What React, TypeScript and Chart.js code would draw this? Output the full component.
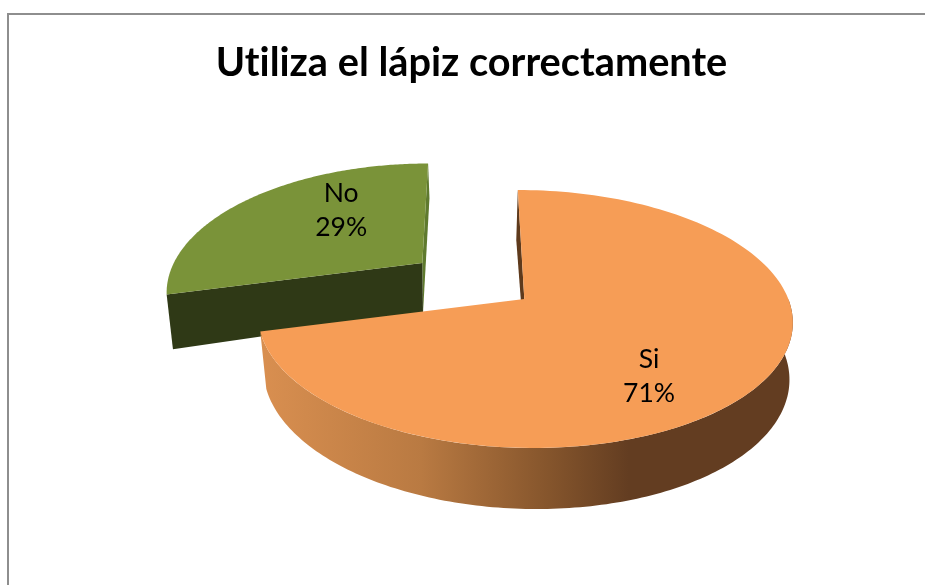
import React, { useEffect, useRef } from "react";
import { Chart, registerables } from "chart.js";

Chart.register(...registerables);

const categories = ["Si", "No"];
const seriesValues = [71, 29];
const chartTitle = "Utiliza el lápiz correctamente";
const sliceColors = ["#F69D56", "#7A9339"];

type Plane = { x: number; y: number; a: number; b: number; e: number; p: number };
type View = { top: Plane; bottom: Plane; label: { r: number; dx: number; dy: number } };

// perspective view of every slice's top and bottom faces
const views: View[] = [
  {
    top: { x: 524.3, y: 299, a: 264, b: 125.9, e: 7.5, p: 0.155 },
    bottom: { x: 525, y: 355, a: 260, b: 131.7, e: 10, p: 0.145 },
    label: { r: 0.55, dx: 1, dy: 33 },
  },
  {
    top: { x: 422.3, y: 263, a: 248.5, b: 120.2, e: -7, p: 0.208 },
    bottom: { x: 423, y: 313, a: 243, b: 138.6, e: -7.8, p: 0.205 },
    label: { r: 0.4, dx: -8, dy: -24.5 },
  },
];
const cutFaceColor = "#2F3916";
const backFaceColors = ["#5E3A1C", "#5F7A2E"];
const wallStops: [number, string][] = [
  [0, "#D98F50"],
  [0.3, "#B97A42"],
  [0.54, "#85552C"],
  [0.69, "#633D21"],
  [1, "#633D21"],
];

const project = (pl: Plane, angle: number, r = 1) => {
  const c = Math.cos(angle) * r;
  const s = Math.sin(angle) * r;
  const w = 1 - pl.p * s;
  return { x: pl.x + (pl.a * c + pl.e * s) / w, y: pl.y + (pl.b * s) / w };
};

const STEPS = 160;

const sectorPath = (ctx: CanvasRenderingContext2D, pl: Plane, a0: number, a1: number) => {
  ctx.beginPath();
  ctx.moveTo(pl.x, pl.y);
  for (let i = 0; i <= STEPS; i++) {
    const p = project(pl, a0 + ((a1 - a0) * i) / STEPS);
    ctx.lineTo(p.x, p.y);
  }
  ctx.closePath();
};

const quad = (ctx: CanvasRenderingContext2D, pts: { x: number; y: number }[], fill: string) => {
  ctx.beginPath();
  pts.forEach((p, i) => (i ? ctx.lineTo(p.x, p.y) : ctx.moveTo(p.x, p.y)));
  ctx.closePath();
  ctx.fillStyle = fill;
  ctx.fill();
};

const framePlugin = {
  id: "frame",
  beforeDraw(chart: any) {
    const { ctx, width, height } = chart;
    ctx.save();
    ctx.fillStyle = "#ffffff";
    ctx.fillRect(0, 0, width, height);
    ctx.strokeStyle = "#8E8E8E";
    ctx.lineWidth = 2;
    ctx.beginPath();
    ctx.moveTo(8, height);
    ctx.lineTo(8, 14);
    ctx.lineTo(width, 14);
    ctx.stroke();
    ctx.restore();
    // a tiny letter spacing turns off the "ti" ligature of the font
    ctx.letterSpacing = "0.01px";
  },
};

const pie3dPlugin = {
  id: "pie3d",
  beforeDatasetDraw(chart: any) {
    const { ctx } = chart;
    const arcs = chart.getDatasetMeta(0).data;
    const order = [1, 0];
    ctx.save();
    order.forEach((i) => {
      const arc = arcs[i];
      const v = views[i];
      const { startAngle: a0, endAngle: a1 } = arc;
      const topApex = { x: v.top.x, y: v.top.y };
      const bottomApex = { x: v.bottom.x, y: v.bottom.y };
      if (i === 0) {
        // back cut face, then the curved outer wall
        quad(ctx, [topApex, project(v.top, a0), project(v.bottom, a0), bottomApex], backFaceColors[0]);
        const g = ctx.createLinearGradient(261, 0, 794, 0);
        wallStops.forEach(([o, c]) => g.addColorStop(o, c));
        const from = a0 + Math.PI / 2;
        ctx.beginPath();
        for (let k = 0; k <= STEPS; k++) {
          const p = project(v.top, from + ((a1 - from) * k) / STEPS);
          k ? ctx.lineTo(p.x, p.y) : ctx.moveTo(p.x, p.y);
        }
        for (let k = STEPS; k >= 0; k--) {
          const p = project(v.bottom, from + ((a1 - from) * k) / STEPS);
          ctx.lineTo(p.x, p.y);
        }
        ctx.closePath();
        ctx.fillStyle = g;
        ctx.fill();
      } else {
        quad(ctx, [topApex, project(v.top, a1), project(v.bottom, a1), bottomApex], backFaceColors[1]);
        quad(ctx, [topApex, project(v.top, a0), project(v.bottom, a0), bottomApex], cutFaceColor);
      }
      // top face
      sectorPath(ctx, v.top, a0, a1);
      ctx.fillStyle = arc.options.backgroundColor;
      ctx.fill();
    });
    // labels
    const total = seriesValues.reduce((s, n) => s + n, 0);
    ctx.fillStyle = "#000000";
    ctx.font = '26.5px Lato, "Open Sans", sans-serif';
    ctx.textAlign = "center";
    ctx.textBaseline = "middle";
    arcs.forEach((arc: any, i: number) => {
      const v = views[i];
      const mid = (arc.startAngle + arc.endAngle) / 2;
      const p = project(v.top, mid, v.label.r);
      const x = p.x + v.label.dx;
      const y = p.y + v.label.dy;
      ctx.fillText(categories[i], x, y - 17);
      ctx.fillText(`${Math.round((seriesValues[i] / total) * 100)}%`, x, y + 17);
    });
    ctx.restore();
    return false;
  },
};

export default function App() {
  const ref = useRef<HTMLCanvasElement | null>(null);
  useEffect(() => {
    document.body.style.margin = "0";
    const chart = new Chart(ref.current as HTMLCanvasElement, {
      type: "pie",
      data: {
        labels: categories,
        datasets: [{ data: seriesValues, backgroundColor: sliceColors, borderWidth: 0 }],
      },
      options: {
        responsive: false,
        animation: false,
        layout: { padding: { left: 18, top: 0 } },
        plugins: {
          legend: { display: false },
          tooltip: { enabled: false },
          title: {
            display: true,
            text: chartTitle,
            color: "#000000",
            font: { family: 'Lato, "Open Sans", sans-serif', size: 39.7, weight: "bold" },
            padding: { top: 39, bottom: 10 },
          },
        },
      },
      plugins: [framePlugin, pie3dPlugin],
    } as any);
    return () => chart.destroy();
  }, []);
  return (
    <div style={{ width: 925, height: 585, overflow: "hidden" }}>
      <canvas ref={ref} width={925} height={585} style={{ display: "block" }} />
    </div>
  );
}
